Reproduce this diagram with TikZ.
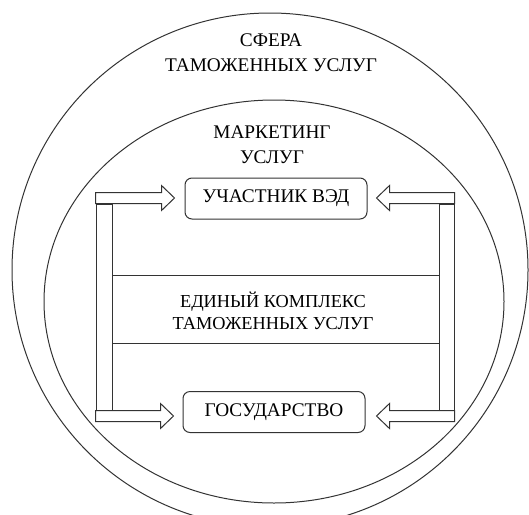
\documentclass[tikz,border=0pt]{standalone}
\usepackage{fontspec}
\setmainfont{Liberation Serif}
\usepackage{tikz}
\usetikzlibrary{positioning,calc}

\begin{document}
\begin{tikzpicture}[
    x=1pt, y=-1pt,
    line width=1pt, draw=black!80,
    every node/.style={font=\fontsize{19.3}{25}\selectfont, align=center, inner sep=0pt},
    servicebox/.style={draw=black!80, rounded corners=7pt, minimum width=182, minimum height=41},
    framebar/.style={draw=black!80, minimum height=206},
    blockarrow/.style={to path={
        let \p1=(\tikztostart), \p2=(\tikztotarget), \n1={sign(\x2-\x1)*13} in
        (\x1,\y1+5.5pt) -- ({\x2-\n1*1pt},\y1+5.5pt) -- ({\x2-\n1*1pt},\y1+12.5pt) -- (\x2,\y1)
        -- ({\x2-\n1*1pt},\y1-12.5pt) -- ({\x2-\n1*1pt},\y1-5.5pt) -- (\x1,\y1-5.5pt) -- cycle}}
]
    \useasboundingbox (0,0) rectangle (529,514);

    % spheres
    \draw (270,270) ellipse [x radius=258, y radius=257];
    \draw (274,301.5) ellipse [x radius=230, y radius=201.5];

    \node (sphere) at (271,53) {СФЕРА\\ТАМОЖЕННЫХ УСЛУГ};
    \node (marketing) at (272,145) {МАРКЕТИНГ\\УСЛУГ};

    % participants
    \node[servicebox] (participant) at (276,198.5) {УЧАСТНИК ВЭД};
    \node[servicebox] (state) at (274,412) {ГОСУДАРСТВО};

    % frame of the complex
    \node[framebar, minimum width=16] (leftbar) at (104,307) {};
    \node[framebar, minimum width=15] (rightbar) at (446.5,307) {};
    \draw ($(leftbar.east)+(0,-32)$) -- ($(rightbar.west)+(0,-32)$);
    \draw ($(leftbar.east)+(0,36)$) -- ($(rightbar.west)+(0,36)$);
    \node[font=\fontsize{18.3}{22}\selectfont] (complex) at (273,311) {ЕДИНЫЙ КОМПЛЕКС\\ТАМОЖЕННЫХ УСЛУГ};

    % arrows
    \coordinate (lt) at ($(leftbar.north west)+(0,-5.5)$);
    \coordinate (lb) at ($(leftbar.south west)+(0,5.5)$);
    \coordinate (rt) at ($(rightbar.north east)+(0,-5.5)$);
    \coordinate (rb) at ($(rightbar.south east)+(0,5.5)$);
    \draw[blockarrow] (lt) to ($(lt -| participant.west)+(-10,0)$);
    \draw[blockarrow] (lb) to ($(lb -| state.west)+(-9,0)$);
    \draw[blockarrow] (rt) to ($(rt -| participant.east)+(9,0)$);
    \draw[blockarrow] (rb) to ($(rb -| state.east)+(11,0)$);
\end{tikzpicture}
\end{document}
